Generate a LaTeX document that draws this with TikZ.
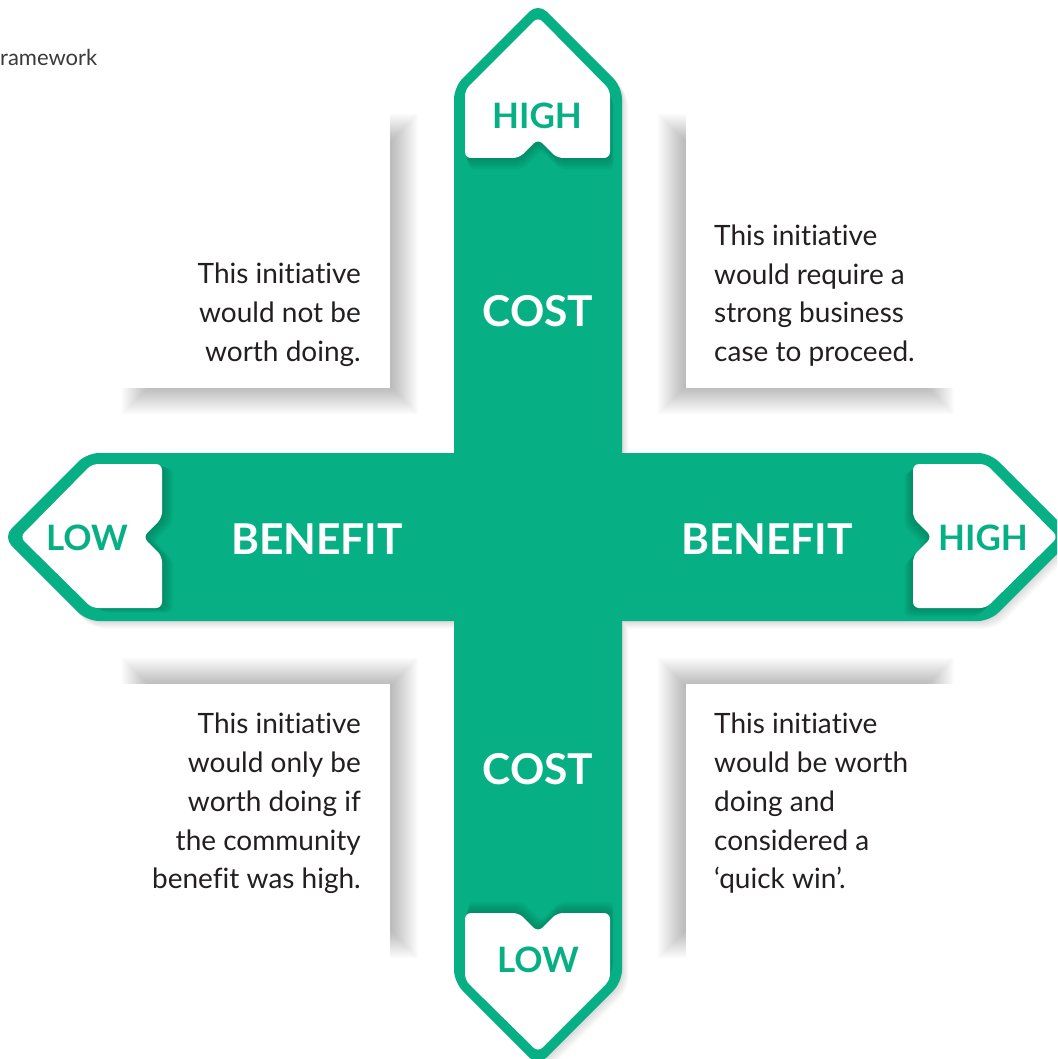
\documentclass[tikz,border=0pt]{standalone}
\usepackage{fontspec}
\setmainfont{Lato}[Ligatures={NoCommon}]
\definecolor{crossgreen}{HTML}{07B084}
\definecolor{deepgreen}{HTML}{035E46}
\definecolor{bodytext}{HTML}{231F20}
\definecolor{headgray}{HTML}{3A3A3A}
\tikzset{
  crossp/.style={insert path={[rounded corners=12pt]
    (454,500) -- (454,87) -- (538,3) -- (622,87) -- (622,982) -- (538,1066) -- (454,982) -- cycle
    (500,453) -- (990,453) -- (1074,537) -- (990,621) -- (87,621) -- (3,537) -- (87,453) -- cycle}},
  lblT/.style={insert path={[rounded corners=6pt]
    (465,120) -- (465,90) -- (538,17) -- (610,90) -- (610,158) -- (557,158) -- (538,139) -- (519,158) -- (465,158) -- cycle}},
  lblB/.style={insert path={[rounded corners=6pt]
    (465,940) -- (465,913) -- (519,913) -- (538,932) -- (557,913) -- (610,913) -- (610,980) -- (538,1052) -- (465,980) -- cycle}},
  lblL/.style={insert path={[rounded corners=6pt]
    (120,464) -- (162,464) -- (162,518) -- (143,537) -- (162,556) -- (162,608) -- (92,608) -- (20,537) -- (92,464) -- cycle}},
  lblR/.style={insert path={[rounded corners=6pt]
    (950,464) -- (986,464) -- (1058,537) -- (986,608) -- (913,608) -- (913,556) -- (932,537) -- (913,518) -- (913,464) -- cycle}},
  bodyline/.style={font=\fontsize{28}{34}\selectfont, text=bodytext, inner sep=0pt},
  headline/.style={font=\fontsize{42.5}{48}\selectfont\bfseries, text=white, inner sep=0pt, anchor=base},
  tagline/.style={font=\fontsize{35}{40}\selectfont\bfseries, text=crossgreen, inner sep=0pt, anchor=base},
}
\newcommand\mypanelshadow[4]{%
  \foreach \e in {-20,-18,...,18} {%
    \fill[black, opacity=0.018] ({#1-\e},{#2-\e}) rectangle ({#3+\e},{#4+\e});
  }}
\begin{document}
\begin{tikzpicture}[x=1pt, y=-1pt]
\useasboundingbox (0,0) rectangle (1057,1059);
\fill[white] (0,0) rectangle (1057,1059);
\clip (0,0) rectangle (1057,1059);

% panel shadows and panels
\mypanelshadow{140}{132}{400}{396}
\mypanelshadow{676}{132}{936}{396}
\mypanelshadow{140}{676}{400}{940}
\mypanelshadow{676}{676}{936}{940}
\fill[white] (90,100) rectangle (390,388);
\fill[white] (686,100) rectangle (1000,388);
\fill[white] (90,684) rectangle (390,990);
\fill[white] (686,684) rectangle (1000,990);

% soft shadow of the cross
\foreach \i in {1,...,7} {
  \fill[black, opacity=0.02, shift={(\i*0.9,\i*1.1)}, crossp];
}
% the cross
\fill[crossgreen, crossp];

% shadows of the tags on the cross
\begin{scope}
  \clip[crossp];
  \foreach \i in {1,...,9} {
    \fill[deepgreen, opacity=0.05, shift={(\i*0.4,\i*1.3)}, lblT];
    \fill[deepgreen, opacity=0.05, shift={(\i*0.4,-\i*1.3)}, lblB];
    \fill[deepgreen, opacity=0.05, shift={(\i*1.3,\i*0.5)}, lblL];
    \fill[deepgreen, opacity=0.05, shift={(-\i*1.0,\i*1.0)}, lblR];
  }
\end{scope}
% tags
\fill[white, lblT];
\fill[white, lblB];
\fill[white, lblL];
\fill[white, lblR];

% tag texts
\node[tagline] (hightop) at (537,129) {HIGH};
\node[tagline] (lowbot) at (538,972) {LOW};
\node[tagline] (lowleft) at (87,550) {LOW};
\node[tagline] (highright) at (983,550) {HIGH};

% axis texts
\node[headline] (costtop) at (538,326) {COST};
\node[headline] (costbot) at (538,784) {COST};
\node[headline] (benleft) at (317,554) {BENEFIT};
\node[headline] (benright) at (767,554) {BENEFIT};

% caption fragment
\node[font=\fontsize{22}{26}\selectfont, text=headgray, inner sep=0pt, anchor=base west] (frag) at (0,66) {ramework};

% top-left text
\node[bodyline, anchor=base east] (tla) at (361,283) {This initiative};
\node[bodyline, anchor=base east] (tlb) at (361,322) {would not be};
\node[bodyline, anchor=base east] (tlc) at (361,361) {worth doing.};

% top-right text
\node[bodyline, anchor=base west] (tra) at (714,245) {This initiative};
\node[bodyline, anchor=base west] (trb) at (714,284) {would require a};
\node[bodyline, anchor=base west] (trc) at (714,322) {strong business};
\node[bodyline, anchor=base west] (trd) at (714,361) {case to proceed.};

% bottom-left text
\node[bodyline, anchor=base east] (bla) at (361,733) {This initiative};
\node[bodyline, anchor=base east] (blb) at (361,772) {would only be};
\node[bodyline, anchor=base east] (blc) at (361,811) {worth doing if};
\node[bodyline, anchor=base east] (bld) at (361,850) {the community};
\node[bodyline, anchor=base east] (ble) at (361,888) {benefit was high.};

% bottom-right text
\node[bodyline, anchor=base west] (bra) at (714,733) {This initiative};
\node[bodyline, anchor=base west] (brb) at (714,772) {would be worth};
\node[bodyline, anchor=base west] (brc) at (714,811) {doing and};
\node[bodyline, anchor=base west] (brd) at (714,850) {considered a};
\node[bodyline, anchor=base west] (bre) at (714,888) {‘quick win’.};
\end{tikzpicture}
\end{document}
